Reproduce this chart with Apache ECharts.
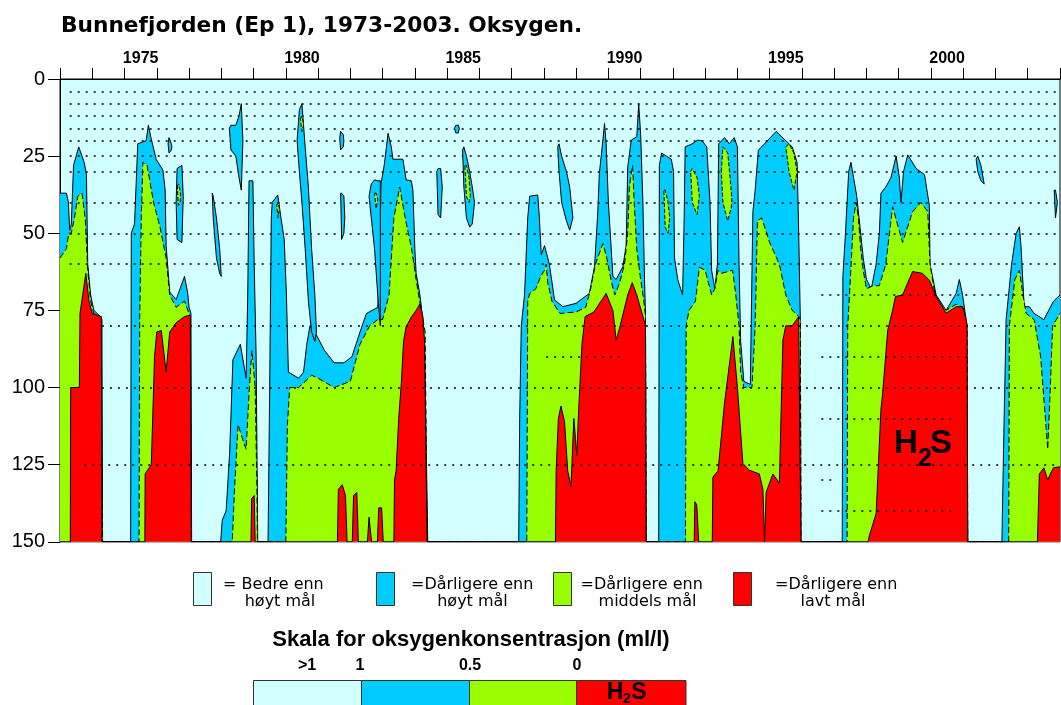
<!DOCTYPE html>
<html>
<head>
<meta charset="utf-8">
<script src="https://cdn.jsdelivr.net/npm/echarts@6.0.0/dist/echarts.min.js"></script>
<style>
  html, body { margin: 0; padding: 0; background: #fff; }
  #main { width: 1061px; height: 705px; }
</style>
</head>
<body>
<div id="main"></div>
<script>
// year categories for the top labels
const years = ['1973','1974','1975','1976','1977','1978','1979','1980','1981','1982','1983',
  '1984','1985','1986','1987','1988','1989','1990','1991','1992','1993','1994','1995','1996',
  '1997','1998','1999','2000','2001','2002','2003'];

// top of each class region, [year, depth m]; 150 = class absent
const blueTop = [
  [1973.0,37],[1973.2,37],[1973.26,40],[1973.3,49],[1973.35,47],[1973.42,28],[1973.58,22],[1973.75,27],[1973.82,31],[1973.86,60],[1973.95,70],[1974.05,75],[1974.25,77],[1974.3,78],[1974.32,150],
  [1975.19,150],[1975.21,50],[1975.31,47],[1975.41,21],[1975.67,20],[1975.74,15],[1975.82,19],[1975.98,26],[1976.19,29.5],[1976.26,36],[1976.29,54],[1976.4,69],[1976.6,71.5],[1976.86,64],[1976.96,69.5],[1977.0,74],[1977.06,76],[1977.08,150],
  [1977.98,150],[1978.03,143],[1978.15,140],[1978.26,121],[1978.36,91],[1978.59,86],[1978.77,97],[1978.82,70],[1978.86,33],[1978.98,33],[1979.02,60],[1979.08,90],[1979.13,150],
  [1979.45,150],[1979.5,100],[1979.55,45],[1979.58,40],[1979.75,37.6],[1979.85,45],[1979.95,52],[1980.02,70],[1980.08,95],[1980.4,97],[1980.55,95],[1980.65,86],[1980.75,80],[1980.95,83],[1981.2,88],[1981.5,92],[1981.8,92],[1982.05,90],[1982.3,82],[1982.5,76],[1982.85,74],[1982.91,60],[1982.95,34],[1983.05,28],[1983.17,17.6],[1983.27,22],[1983.32,26],[1983.63,26],[1983.73,32.7],[1983.89,33],[1983.94,36],[1984.0,55],[1984.04,63],[1984.15,69.5],[1984.25,78],[1984.3,85],[1984.4,150],
  [1987.22,150],[1987.25,110],[1987.3,80],[1987.4,70],[1987.5,45],[1987.56,38],[1987.81,37.6],[1987.86,45],[1987.92,57],[1988.02,54],[1988.07,54],[1988.17,60],[1988.33,71.6],[1988.59,73.8],[1989.0,72.7],[1989.41,69.5],[1989.57,60.8],[1989.67,43.5],[1989.72,30.6],[1989.83,19.8],[1989.88,14.4],[1989.93,21],[1990.0,40],[1990.14,64],[1990.24,65],[1990.45,60.8],[1990.55,54],[1990.6,28.4],[1990.71,19.8],[1990.88,18.7],[1990.94,8],[1991.0,18],[1991.07,40],[1991.12,65],[1991.15,76],[1991.17,150],
  [1991.56,150],[1991.58,28],[1991.65,24],[1991.8,25],[1991.95,26],[1992.02,30],[1992.05,58],[1992.15,65],[1992.3,70],[1992.35,45],[1992.38,22],[1992.6,21],[1992.77,19.8],[1992.9,20],[1993.05,22],[1993.15,40],[1993.2,62],[1993.3,68],[1993.38,60],[1993.42,21],[1993.6,19],[1993.75,21],[1993.9,19],[1994.0,22],[1994.05,60],[1994.1,85],[1994.2,98],[1994.4,99],[1994.48,43],[1994.55,36],[1994.65,23],[1994.75,22],[1995.2,17],[1995.5,20],[1995.7,22],[1995.85,27],[1995.9,50],[1995.95,78],[1995.97,150],
  [1997.25,150],[1997.27,64],[1997.35,50],[1997.45,30],[1997.52,27],[1997.6,32],[1997.7,38],[1997.8,48],[1997.9,58],[1998.0,65],[1998.15,68],[1998.3,60],[1998.4,50],[1998.45,37],[1998.6,35],[1998.76,32],[1998.92,25],[1999.02,32],[1999.07,40],[1999.15,30],[1999.28,24.6],[1999.54,29],[1999.8,31],[1999.95,41],[1999.97,60],[2000.16,70],[2000.47,75],[2000.78,69.5],[2000.88,65],[2000.98,70],[2001.09,78],[2001.14,150],
  [2002.2,150],[2002.25,120],[2002.33,78],[2002.5,60],[2002.64,50],[2002.74,47.9],[2002.79,54],[2002.89,73.8],[2003.05,73.8],[2003.2,76],[2003.5,78],[2003.8,72],[2004.0,70]
];

const greenTop = [
  [1973.0,58],[1973.2,55],[1973.27,50],[1973.35,50],[1973.45,45],[1973.55,38],[1973.68,37],[1973.78,45],[1973.86,62],[1973.95,72],[1974.05,76],[1974.25,77.5],[1974.3,78],[1974.32,150],
  [1975.45,150],[1975.47,78],[1975.52,45],[1975.57,27],[1975.7,28],[1975.9,40],[1976.1,48],[1976.29,58],[1976.4,70],[1976.6,74],[1976.86,72],[1977.0,76],[1977.06,76.5],[1977.08,150],
  [1978.34,150],[1978.4,135],[1978.52,112],[1978.7,118],[1978.77,120],[1978.87,100],[1978.95,88],[1979.05,100],[1979.1,130],[1979.12,150],
  [1980.0,150],[1980.05,112],[1980.12,100],[1980.4,100],[1980.6,98],[1980.8,96],[1981.0,97],[1981.5,100],[1982.0,98],[1982.3,86],[1982.6,80],[1982.85,78],[1983.0,78],[1983.2,70],[1983.35,45],[1983.53,35],[1983.7,45],[1983.9,55],[1984.04,65],[1984.15,72],[1984.25,78],[1984.32,82],[1984.38,150],
  [1987.47,150],[1987.5,72],[1987.56,69.5],[1987.75,68],[1987.9,64],[1988.02,62],[1988.07,60],[1988.12,66],[1988.25,72],[1988.5,76],[1989.0,75.5],[1989.3,74],[1989.45,68],[1989.6,60],[1989.83,53.3],[1989.95,58],[1990.1,66],[1990.2,70],[1990.35,66],[1990.5,60],[1990.6,50],[1990.65,35],[1990.75,28],[1990.8,40],[1990.88,55],[1991.0,65],[1991.1,72],[1991.15,77],[1991.17,150],
  [1992.39,150],[1992.41,80],[1992.5,75],[1992.7,72],[1992.82,61],[1993.0,62],[1993.1,66],[1993.2,70],[1993.3,68],[1993.4,62],[1993.5,63],[1993.85,62],[1993.95,70],[1994.05,80],[1994.1,95],[1994.2,100],[1994.45,100],[1994.55,80],[1994.62,46],[1994.75,45],[1995.0,53],[1995.3,60],[1995.5,70],[1995.7,75],[1995.9,77],[1995.95,78],[1995.97,150],
  [1997.4,150],[1997.42,80],[1997.5,65],[1997.6,45],[1997.68,40],[1997.75,45],[1997.82,55],[1997.9,62],[1998.0,68],[1998.2,67],[1998.4,67],[1998.6,60],[1998.81,41.4],[1999.12,53],[1999.43,43],[1999.69,40],[1999.9,43],[1999.97,60],[2000.16,72],[2000.47,75],[2000.78,73],[2000.98,74],[2001.09,78],[2001.12,80],[2001.14,150],
  [2002.41,150],[2002.43,80],[2002.6,65],[2002.74,62],[2002.85,70],[2002.95,76],[2003.2,78],[2003.4,90],[2003.62,120],[2003.7,100],[2003.77,80],[2004.0,76]
];

const redTop = [
  [1973.0,150],[1973.32,150],[1973.33,100],[1973.6,100],[1973.62,76],[1973.8,63],[1973.9,72],[1974.0,76],[1974.28,77],[1974.3,150],
  [1975.63,150],[1975.64,128],[1975.83,125],[1975.93,90],[1976.0,82],[1976.14,81.5],[1976.29,95],[1976.4,82],[1976.6,79],[1976.86,77],[1977.04,76.5],[1977.07,150],
  [1978.92,150],[1978.94,136],[1979.02,135],[1979.05,150],
  [1981.6,150],[1981.63,133],[1981.75,131.5],[1981.85,135],[1981.9,150],[1982.06,150],[1982.1,135],[1982.2,134],[1982.25,150],[1982.53,150],[1982.58,142],[1982.63,142],[1982.66,150],[1982.84,150],[1982.88,139],[1982.97,139],[1983.02,150],
  [1983.35,150],[1983.37,130],[1983.42,126.8],[1983.5,110],[1983.58,98.7],[1983.65,85],[1983.73,80.3],[1983.9,77],[1984.04,75],[1984.15,73],[1984.25,77],[1984.3,85],[1984.38,150],
  [1988.36,150],[1988.38,127],[1988.45,110],[1988.53,106],[1988.64,111],[1988.74,127],[1988.84,132],[1988.93,110],[1989.02,122],[1989.08,107],[1989.18,86],[1989.28,77],[1989.55,75.5],[1989.93,69.5],[1990.14,75],[1990.24,84.6],[1990.34,81],[1990.6,70],[1990.74,66],[1990.88,70],[1991.1,78],[1991.15,80],[1991.17,150],
  [1992.66,150],[1992.68,137],[1992.74,138],[1992.8,150],[1993.22,150],[1993.24,129],[1993.4,127],[1993.6,105],[1993.86,83.5],[1994.0,100],[1994.17,124.6],[1994.37,126.8],[1994.68,128],[1994.79,133],[1994.84,150],[1994.87,150],[1994.89,134],[1995.1,128],[1995.3,131],[1995.41,84.6],[1995.5,80],[1995.7,80],[1995.9,77],[1995.95,77],[1995.97,150],
  [1998.05,150],[1998.09,148],[1998.3,140.8],[1998.45,107],[1998.5,102],[1998.66,81.4],[1998.81,75],[1998.9,70.5],[1999.12,70],[1999.43,62.4],[1999.74,63],[1999.95,65.2],[2000.16,70.5],[2000.47,75.9],[2000.78,73.8],[2000.98,73.8],[2001.09,78],[2001.12,80],[2001.14,150],
  [2003.3,150],[2003.36,128],[2003.5,126],[2003.62,130],[2003.7,128],[2003.8,126],[2004.0,125.7]
];

// detached patches higher up: [year, top depth, bottom depth]
const blueStreaks = [
  [[1976.35,21,21],[1976.38,19,24],[1976.45,21,23],[1976.47,22,22]],
  [[1976.6,40,40],[1976.63,29,52],[1976.78,28,53],[1976.82,38,38]],
  [[1977.72,37,37],[1977.75,38,45],[1977.85,45,58],[1977.95,55,63],[1978.0,64,64]],
  [[1978.25,16,16],[1978.3,15,23],[1978.45,15,25],[1978.55,12,32],[1978.62,8,36],[1978.67,20,20]],
  [[1980.35,20,20],[1980.42,10,30],[1980.5,8,40],[1980.6,22,55],[1980.7,35,72],[1980.8,55,82],[1980.9,70,85],[1980.95,82,82]],
  [[1981.67,19,19],[1981.7,17,23],[1981.78,18,22],[1981.8,20,20]],
  [[1981.7,37,37],[1981.73,37,52],[1981.8,38,50],[1981.83,45,45]],
  [[1982.58,38,38],[1982.65,34,45],[1982.75,32.7,55],[1982.85,33,70],[1982.93,33,80]],
  [[1984.68,30,30],[1984.72,29,44],[1984.8,29,45],[1984.85,35,35]],
  [[1985.23,16,16],[1985.27,15,17.5],[1985.35,15,17.5],[1985.38,16,16]],
  [[1985.48,23,23],[1985.52,22,35],[1985.6,25,45],[1985.7,30,48],[1985.78,35,47],[1985.85,40,40]],
  [[1988.43,22,22],[1988.47,21,30],[1988.55,25,40],[1988.7,30,46],[1988.8,35,49],[1988.9,45,45]],
  [[2001.4,26,26],[2001.45,25,30],[2001.55,28,33],[2001.65,34,34]],
  [[2003.82,36,36],[2003.86,36,45],[2003.92,40,40]]
];

const greenStreaks = [
  [[1976.64,35,35],[1976.67,34,41],[1976.72,36,40],[1976.74,38,38]],
  [[1979.72,41,41],[1979.76,40,45],[1979.8,42,42]],
  [[1980.45,13,13],[1980.5,12,17],[1980.55,15,15]],
  [[1982.75,37,37],[1982.8,37,42],[1982.85,39,39]],
  [[1985.55,28,28],[1985.6,28,38],[1985.68,32,40],[1985.72,38,38]],
  [[1991.72,36,36],[1991.76,36,48],[1991.85,40,50],[1991.9,45,45]],
  [[1992.55,30,30],[1992.6,29,40],[1992.75,32,44],[1992.82,38,38]],
  [[1993.5,30,30],[1993.55,22,40],[1993.7,24,46],[1993.8,35,42],[1993.83,40,40]],
  [[1995.5,22,22],[1995.6,21,30],[1995.75,24,36],[1995.85,30,30]]
];

// sampling depths drawn as dotted rows: [depth, from year, to year]
const sampleRows = [
  [4,1973.3,2004],[8,1973.3,2004],[12,1973.3,2004],[16,1973.3,2004],[20,1973.3,2004],
  [25,1973.3,2004],[30,1973.3,2004],[40,1973.3,2004],[50,1973.3,2004],[60,1973.3,2004],
  [70,1996.6,2003.15],[80,1974.3,2004],[90,1988.07,1990.34],[90,1996.6,2001.3],
  [100,1974.3,2004],[110,1996.6,2000.7],[125,1973.75,2004],[130,1996.6,1997.0],[140,1996.6,2000.7]
];

const CYAN = '#d2ffff', BLUE = '#00ccff', GREEN = '#99ff00', RED = '#ff0000';

const chart = echarts.init(document.getElementById('main'));

function region(name, data, color, z, dashed) {
  return {
    name: name, type: 'line', data: data, z: z,
    symbol: 'none', showSymbol: false, silent: true,
    lineStyle: { color: '#000', width: 1, type: dashed ? [6, 3] : 'solid' },
    areaStyle: { color: color, opacity: 1, origin: 'end' }
  };
}

function patches(list, color, z, dashed) {
  return {
    type: 'custom', z: z, silent: true, clip: true,
    data: list.map(s => [s[0][0], s[0][1]]),
    encode: { x: 0, y: 1 },
    renderItem: function (params, api) {
      const s = list[params.dataIndex];
      const pts = s.map(p => api.coord([p[0], p[1]]));
      for (let i = s.length - 1; i >= 0; i--) pts.push(api.coord([s[i][0], s[i][2]]));
      return { type: 'polygon', shape: { points: pts },
        style: { fill: color, stroke: '#000', lineWidth: 1, lineDash: dashed ? [4, 2] : null } };
    }
  };
}

const rowLines = sampleRows.map(r => [{ coord: [r[1], r[0]] }, { coord: [r[2], r[0]] }]);

function legendText(x, y, text, align) {
  return { type: 'text', x: x, y: y, z: 100,
    style: { text: text, fill: '#000', fontFamily: 'DejaVu Sans', fontSize: 16, align: align, verticalAlign: 'middle' } };
}
function boldText(x, y, text, size) {
  return { type: 'text', x: x, y: y, z: 100,
    style: { text: text, fill: '#000', fontFamily: 'Liberation Sans', fontWeight: 'bold', fontSize: size, align: 'center', verticalAlign: 'middle' } };
}
function box(x, y, w, h, color) {
  return { type: 'rect', z: 100, shape: { x: x, y: y, width: w, height: h },
    style: { fill: color, stroke: '#333', lineWidth: 1 } };
}

const option = {
  animation: false,
  title: {
    text: 'Bunnefjorden (Ep 1), 1973-2003. Oksygen.',
    left: 61, top: 15, padding: 0,
    textStyle: { fontFamily: 'DejaVu Sans', fontWeight: 'bold', fontSize: 21.7, color: '#000' }
  },
  grid: {
    left: 60, top: 79, width: 1000, height: 462.8,
    show: true, backgroundColor: CYAN, borderColor: '#000', borderWidth: 1,
    outerBoundsMode: 'none'
  },
  xAxis: [
    {
      type: 'value', position: 'top', min: 1973, max: 2004, interval: 1,
      axisLine: { show: true, lineStyle: { color: '#000' } },
      axisTick: { show: true, length: 11, lineStyle: { color: '#000' } },
      axisLabel: { show: false }, splitLine: { show: false }
    },
    {
      type: 'category', position: 'top', data: years, boundaryGap: true,
      axisLine: { show: false }, axisTick: { show: false }, splitLine: { show: false },
      axisLabel: {
        interval: function (i, v) { return Number(v) % 5 === 0; },
        margin: 12, color: '#000', fontFamily: 'Liberation Sans', fontWeight: 'bold', fontSize: 16
      }
    }
  ],
  yAxis: {
    type: 'value', inverse: true, min: 0, max: 150, interval: 25,
    axisLine: { show: true, lineStyle: { color: '#000' } },
    axisTick: { show: true, length: 12, lineStyle: { color: '#000' } },
    axisLabel: { margin: 15, color: '#000', fontFamily: 'Liberation Sans', fontSize: 20 },
    splitLine: { show: false }
  },
  series: [
    region('blue', blueTop, BLUE, 2, false),
    region('green', greenTop, GREEN, 3, true),
    region('red', redTop, RED, 4, false),
    patches(blueStreaks, BLUE, 5, false),
    patches(greenStreaks, GREEN, 6, true),
    {
      type: 'line', z: 7, silent: true, data: [[1973, 0]], symbol: 'none',
      lineStyle: { opacity: 0 },
      markLine: {
        silent: true, symbol: 'none', label: { show: false },
        lineStyle: { color: '#000', type: [2, 6], width: 1.5 },
        data: rowLines
      }
    }
  ],
  graphic: [
    // H2S inside the plot
    boldText(906, 444, 'H', 33),
    boldText(925, 459, '2', 25),
    boldText(941, 444, 'S', 33),
    // legend
    box(193.5, 572.5, 18, 33, CYAN),
    box(376.5, 572.5, 18, 33, BLUE),
    box(553.5, 572.5, 18, 33, GREEN),
    box(733.5, 572.5, 18, 33, RED),
    legendText(223, 585, '= Bedre enn', 'left'),
    legendText(280, 602, 'høyt mål', 'center'),
    legendText(411, 585, '=Dårligere enn', 'left'),
    legendText(472.5, 602, 'høyt mål', 'center'),
    legendText(580.5, 585, '=Dårligere enn', 'left'),
    legendText(647.5, 602, 'middels mål', 'center'),
    legendText(775, 585, '=Dårligere enn', 'left'),
    legendText(833, 602, 'lavt mål', 'center'),
    // oxygen scale
    boldText(471, 640, 'Skala for oksygenkonsentrasjon (ml/l)', 22),
    boldText(307, 666, '>1', 16),
    boldText(360, 666, '1', 16),
    boldText(470, 666, '0.5', 16),
    boldText(577, 666, '0', 16),
    box(253.5, 680.5, 108, 30, CYAN),
    box(361.5, 680.5, 108, 30, BLUE),
    box(469.5, 680.5, 107, 30, GREEN),
    box(576.5, 680.5, 109.5, 30, RED),
    boldText(615, 693, 'H', 23),
    boldText(627, 699, '2', 14),
    boldText(639, 693, 'S', 23)
  ]
};

chart.setOption(option);
</script>
</body>
</html>
